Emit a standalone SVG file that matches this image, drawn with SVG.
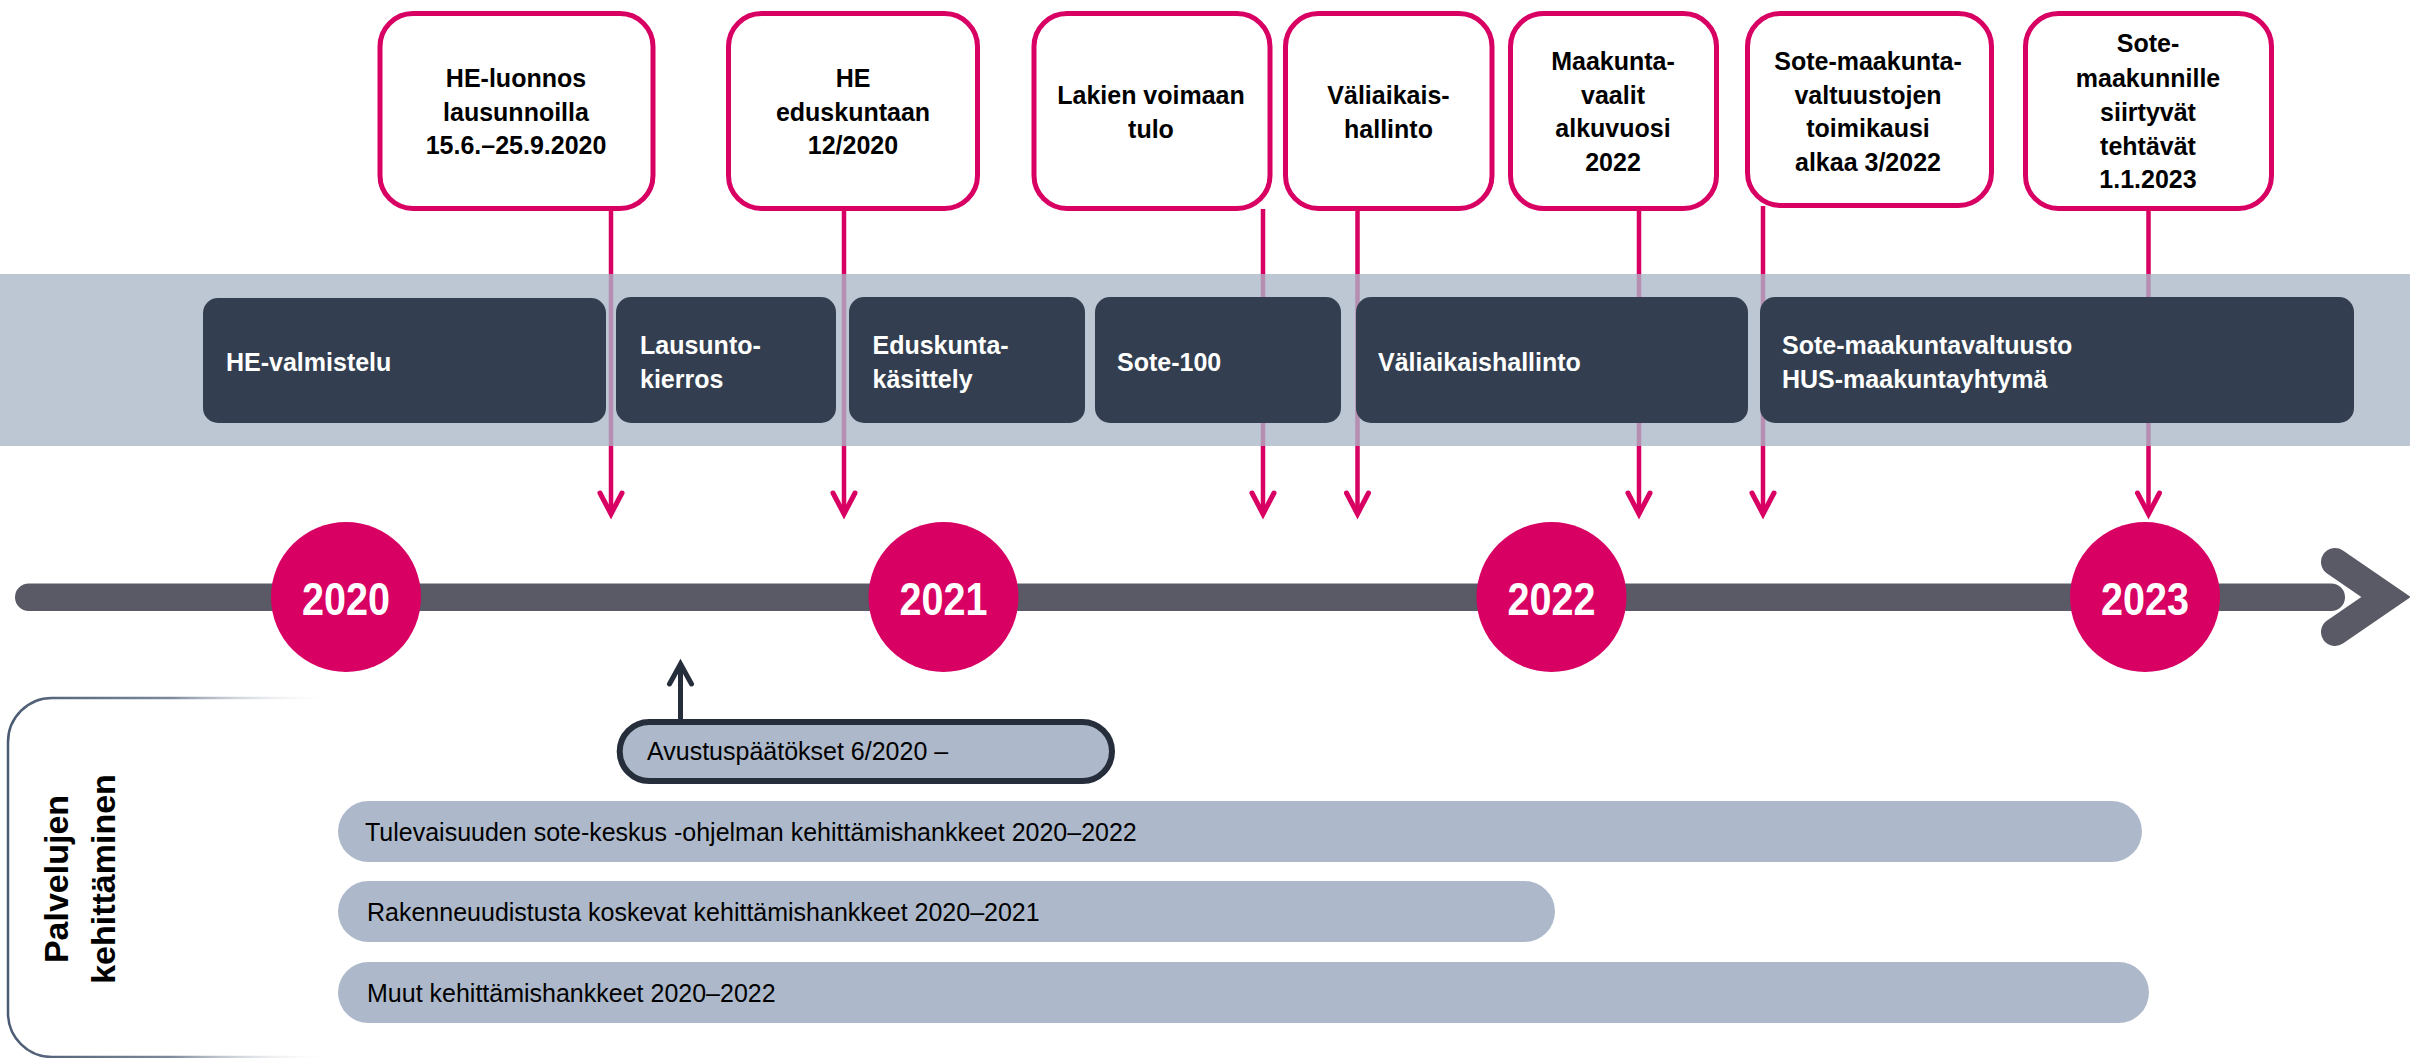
<svg xmlns="http://www.w3.org/2000/svg" width="2410" height="1058" viewBox="0 0 2410 1058">
<style>
.tb{fill:#fff;stroke:#D80063;stroke-width:5}
.tt{font-family:"Liberation Sans",Arial,sans-serif;font-weight:bold;font-size:25px;fill:#000;text-anchor:middle}
.db{fill:#333F50}
.dt{font-family:"Liberation Sans",Arial,sans-serif;font-weight:bold;font-size:25px;fill:#fff}
.yc{fill:#D80063}
.yt{font-family:"Liberation Sans",Arial,sans-serif;font-weight:bold;font-size:47px;fill:#fff;text-anchor:middle}
.bar{fill:#ADB9CA}
.bt{font-family:"Liberation Sans",Arial,sans-serif;font-size:25px;fill:#000}
.pl{stroke:#D80063;stroke-width:4.5;fill:none;marker-end:url(#ap)}
</style>
<defs>
<marker id="ap" viewBox="-30 -16 34 32" markerWidth="34" markerHeight="32" refX="0" refY="0" orient="auto" markerUnits="userSpaceOnUse" overflow="visible">
<path d="M-21,-11 L0,0 L-21,11" fill="none" stroke="#D80063" stroke-width="5" stroke-linecap="round" stroke-linejoin="miter"/>
</marker>
<marker id="ad" viewBox="-30 -16 34 32" markerWidth="34" markerHeight="32" refX="0" refY="0" orient="auto" markerUnits="userSpaceOnUse" overflow="visible">
<path d="M-20,-11 L0,0 L-20,11" fill="none" stroke="#262E3B" stroke-width="5" stroke-linecap="round" stroke-linejoin="miter"/>
</marker>
<linearGradient id="pg" gradientUnits="userSpaceOnUse" x1="8" y1="0" x2="335" y2="0">
<stop offset="0" stop-color="#4A5A72"/>
<stop offset="0.5" stop-color="#7D8A9C"/>
<stop offset="1" stop-color="#FFFFFF" stop-opacity="0"/>
</linearGradient>
</defs>

<!-- Milestone boxes -->
<g id="m1"><rect class="tb" x="380" y="13.5" width="273" height="195" rx="33"/>
<text class="tt" x="516" y="87">HE-luonnos</text><text class="tt" x="516" y="121">lausunnoilla</text><text class="tt" x="516" y="154">15.6.–25.9.2020</text></g>
<g id="m2"><rect class="tb" x="728.5" y="13.5" width="249" height="195" rx="33"/>
<text class="tt" x="853" y="87">HE</text><text class="tt" x="853" y="121">eduskuntaan</text><text class="tt" x="853" y="154">12/2020</text></g>
<g id="m3"><rect class="tb" x="1034" y="13.5" width="236" height="195" rx="33"/>
<text class="tt" x="1151" y="104">Lakien voimaan</text><text class="tt" x="1151" y="138">tulo</text></g>
<g id="m4"><rect class="tb" x="1285.5" y="13.5" width="206.5" height="195" rx="33"/>
<text class="tt" x="1388.5" y="104">Väliaikais-</text><text class="tt" x="1388.5" y="138">hallinto</text></g>
<g id="m5"><rect class="tb" x="1510.5" y="13.5" width="206" height="195" rx="33"/>
<text class="tt" x="1613" y="70">Maakunta-</text><text class="tt" x="1613" y="104">vaalit</text><text class="tt" x="1613" y="137">alkuvuosi</text><text class="tt" x="1613" y="171">2022</text></g>
<g id="m6"><rect class="tb" x="1747.5" y="13.5" width="244" height="192" rx="33"/>
<text class="tt" x="1868" y="70">Sote-maakunta-</text><text class="tt" x="1868" y="104">valtuustojen</text><text class="tt" x="1868" y="137">toimikausi</text><text class="tt" x="1868" y="171">alkaa 3/2022</text></g>
<g id="m7"><rect class="tb" x="2025.5" y="13.5" width="246" height="195" rx="33"/>
<text class="tt" x="2148" y="52">Sote-</text><text class="tt" x="2148" y="87">maakunnille</text><text class="tt" x="2148" y="121">siirtyvät</text><text class="tt" x="2148" y="155">tehtävät</text><text class="tt" x="2148" y="188">1.1.2023</text></g>

<!-- Connectors -->
<g id="connectors">
<line class="pl" x1="611" y1="209" x2="611" y2="514"/>
<line class="pl" x1="844" y1="209" x2="844" y2="514"/>
<line class="pl" x1="1263" y1="209" x2="1263" y2="514"/>
<line class="pl" x1="1357.5" y1="209" x2="1357.5" y2="514"/>
<line class="pl" x1="1639" y1="209" x2="1639" y2="514"/>
<line class="pl" x1="1763" y1="206" x2="1763" y2="514"/>
<line class="pl" x1="2148.5" y1="209" x2="2148.5" y2="514"/>
<line x1="680.5" y1="720" x2="680.5" y2="664" stroke="#262E3B" stroke-width="5" marker-end="url(#ad)"/>
</g>

<!-- Phase band -->
<g id="band"><rect x="0" y="274" width="2410" height="172" fill="#AAB6C6" opacity="0.78"/></g>
<g id="p1"><rect class="db" x="203" y="298" width="403" height="125" rx="15"/><text class="dt" x="226" y="371">HE-valmistelu</text></g>
<g id="p2"><rect class="db" x="616" y="297" width="220" height="126" rx="15"/><text class="dt" x="640" y="354">Lausunto-</text><text class="dt" x="640" y="388">kierros</text></g>
<g id="p3"><rect class="db" x="849" y="297" width="236" height="126" rx="15"/><text class="dt" x="872.5" y="354">Eduskunta-</text><text class="dt" x="872.5" y="388">käsittely</text></g>
<g id="p4"><rect class="db" x="1095" y="297" width="246" height="126" rx="15"/><text class="dt" x="1117" y="371">Sote-100</text></g>
<g id="p5"><rect class="db" x="1356" y="297" width="392" height="126" rx="15"/><text class="dt" x="1378" y="371">Väliaikaishallinto</text></g>
<g id="p6"><rect class="db" x="1760" y="297" width="594" height="126" rx="15"/><text class="dt" x="1782" y="354">Sote-maakuntavaltuusto</text><text class="dt" x="1782" y="388">HUS-maakuntayhtymä</text></g>

<!-- Timeline -->
<g id="timeline">
<rect x="15" y="583.5" width="2330" height="27.5" rx="13.75" fill="#5A5A66"/>
<polyline points="2335,562 2386,597 2335,632" fill="none" stroke="#5A5A66" stroke-width="28" stroke-linecap="round" stroke-linejoin="miter"/>
</g>
<g id="y2020"><circle class="yc" cx="346" cy="597" r="75"/><text class="yt" x="346" y="615" textLength="88" lengthAdjust="spacingAndGlyphs">2020</text></g>
<g id="y2021"><circle class="yc" cx="943.5" cy="597" r="75"/><text class="yt" x="943.5" y="615" textLength="88" lengthAdjust="spacingAndGlyphs">2021</text></g>
<g id="y2022"><circle class="yc" cx="1551.5" cy="597" r="75"/><text class="yt" x="1551.5" y="615" textLength="88" lengthAdjust="spacingAndGlyphs">2022</text></g>
<g id="y2023"><circle class="yc" cx="2145" cy="597" r="75"/><text class="yt" x="2145" y="615" textLength="88" lengthAdjust="spacingAndGlyphs">2023</text></g>

<!-- Services development panel -->
<g id="panel">
<path d="M335,698 L52,698 A44,44 0 0 0 8,742 L8,1013 A44,44 0 0 0 52,1057 L335,1057" fill="none" stroke="url(#pg)" stroke-width="2.5"/>
<text font-family="Liberation Sans, Arial, sans-serif" font-weight="bold" font-size="34" fill="#000" text-anchor="middle" transform="translate(68,879) rotate(-90)">Palvelujen</text>
<text font-family="Liberation Sans, Arial, sans-serif" font-weight="bold" font-size="34" fill="#000" text-anchor="middle" transform="translate(115,879) rotate(-90)">kehittäminen</text>
</g>
<g id="avustus"><rect x="619.7" y="722" width="492.3" height="59" rx="29.5" fill="#ADB9CA" stroke="#262E3B" stroke-width="6"/><text class="bt" x="647" y="760">Avustuspäätökset 6/2020 –</text></g>
<g id="b1"><rect class="bar" x="338" y="801" width="1804" height="61" rx="30.5"/><text class="bt" x="365" y="840.5">Tulevaisuuden sote-keskus -ohjelman kehittämishankkeet 2020–2022</text></g>
<g id="b2"><rect class="bar" x="338" y="881" width="1217" height="61" rx="30.5"/><text class="bt" x="367" y="920.5">Rakenneuudistusta koskevat kehittämishankkeet 2020–2021</text></g>
<g id="b3"><rect class="bar" x="338" y="962" width="1811" height="61" rx="30.5"/><text class="bt" x="367" y="1001.5">Muut kehittämishankkeet 2020–2022</text></g>
</svg>
